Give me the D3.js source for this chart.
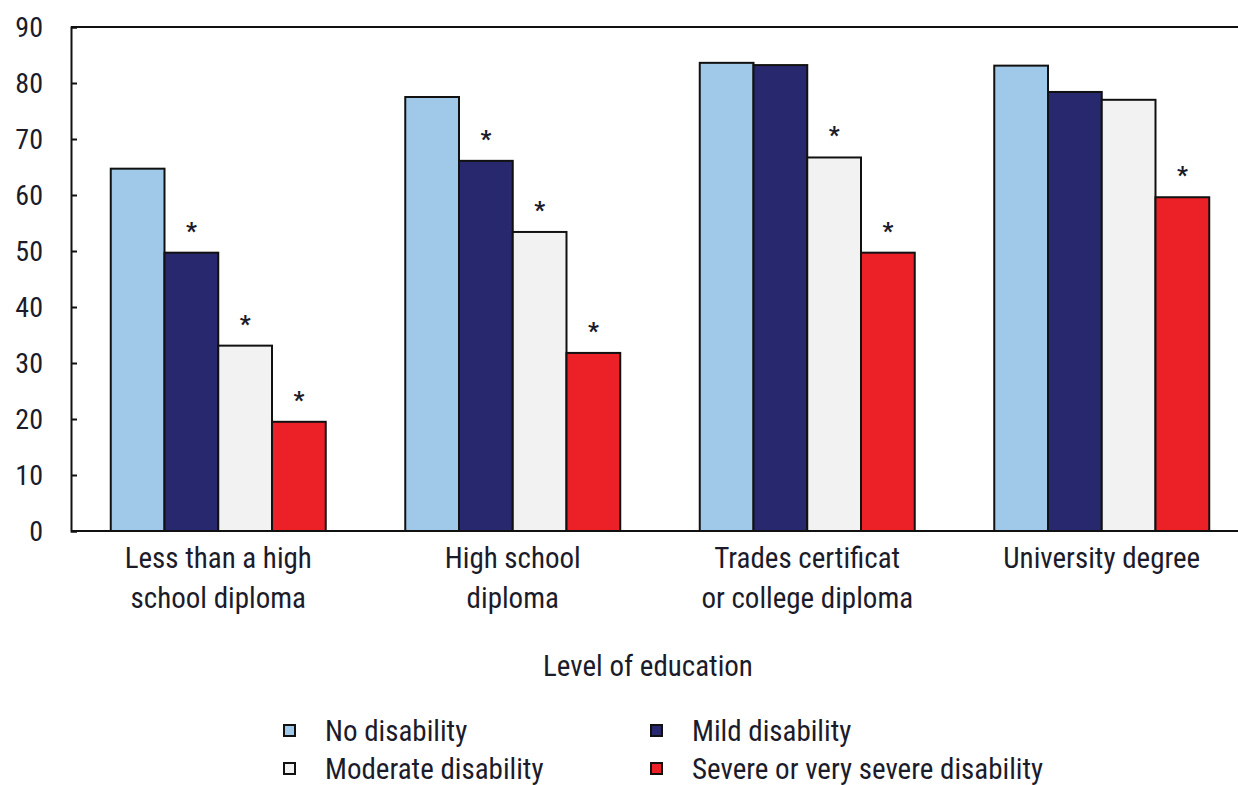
<!DOCTYPE html>
<html>
<head>
<meta charset="utf-8">
<script src="https://cdn.jsdelivr.net/npm/d3@7"></script>
<style>
  body { margin: 0; background: #fff; }
  svg text { font-family: "Liberation Sans Narrow", "Arial Narrow", "Roboto Condensed", "Liberation Sans", sans-serif; fill: #1b1b2a; }
</style>
</head>
<body>
<div id="chart"></div>
<script>
// data
const categories = [
  ["Less than a high", "school diploma"],
  ["High school", "diploma"],
  ["Trades certificat", "or college diploma"],
  ["University degree"]
];
const seriesNames = ["No disability", "Mild disability", "Moderate disability", "Severe or very severe disability"];
const noDisability = [64.7, 77.5, 83.6, 83.1];
const mildDisability = [49.7, 66.1, 83.2, 78.4];
const moderateDisability = [33.1, 53.4, 66.7, 77.0];
const severeDisability = [19.5, 31.8, 49.7, 59.6];
// significance stars (1 = marked with *)
const starMild = [1, 1, 0, 0];
const starModerate = [1, 1, 1, 0];
const starSevere = [1, 1, 1, 1];
const yTicks = [0, 10, 20, 30, 40, 50, 60, 70, 80, 90];
const xTitle = "Level of education";

const series = [noDisability, mildDisability, moderateDisability, severeDisability];
const stars = [[0, 0, 0, 0], starMild, starModerate, starSevere];
const colors = ["#9fc8e9", "#28286f", "#f2f2f2", "#ec2127"];

const width = 1238, height = 785;
const margin = { top: 27, right: -11, bottom: 254, left: 71 };

const svg = d3.select("#chart").append("svg")
  .attr("width", width).attr("height", height);

const x0 = d3.scaleBand()
  .domain(d3.range(categories.length))
  .range([margin.left, width - margin.right])
  .paddingInner(0.27).paddingOuter(0.135);
const x1 = d3.scaleBand()
  .domain(d3.range(series.length))
  .range([0, x0.bandwidth()]);
const y = d3.scaleLinear().domain([0, 90]).range([height - margin.bottom, margin.top]);

// frame
svg.append("line")
  .attr("x1", margin.left).attr("x2", width)
  .attr("y1", y(90)).attr("y2", y(90))
  .attr("stroke", "#111").attr("stroke-width", 2);

// y axis
const yAxis = svg.append("g")
  .attr("transform", `translate(${margin.left},0)`)
  .call(d3.axisRight(y).tickValues(yTicks).tickSize(6).tickFormat(""));
yAxis.select(".domain").attr("stroke", "#111").attr("stroke-width", 2);
yAxis.selectAll(".tick line").attr("stroke", "#111").attr("stroke-width", 2);

svg.append("g").selectAll("text")
  .data(yTicks).enter().append("text")
  .attr("x", 43).attr("y", (d) => y(d))
  .attr("dy", "0.36em")
  .attr("text-anchor", "end")
  .style("font-size", "28px")
  .text((d) => d);

// bars
const groups = svg.append("g").selectAll("g")
  .data(categories).enter().append("g")
  .attr("transform", (d, i) => `translate(${x0(i)},0)`);

groups.selectAll("rect")
  .data((d, i) => series.map((s, j) => ({ j, v: s[i], star: stars[j][i] })))
  .enter().append("rect")
  .attr("x", (d) => x1(d.j))
  .attr("y", (d) => y(d.v))
  .attr("width", x1.bandwidth())
  .attr("height", (d) => y(0) - y(d.v))
  .attr("fill", (d) => colors[d.j])
  .attr("stroke", "#111")
  .attr("stroke-width", 2);

groups.selectAll("text.star")
  .data((d, i) => series.map((s, j) => ({ j, v: s[i], star: stars[j][i] })).filter((d) => d.star))
  .enter().append("text")
  .attr("class", "star")
  .attr("x", (d) => x1(d.j) + x1.bandwidth() / 2)
  .attr("y", (d) => y(d.v) - 14)
  .attr("text-anchor", "middle")
  .style("font-size", "24px")
  .style("font-weight", "bold")
  .text("*");

// baseline
svg.append("line")
  .attr("x1", margin.left).attr("x2", width)
  .attr("y1", y(0)).attr("y2", y(0))
  .attr("stroke", "#111").attr("stroke-width", 2);

// category labels
const catLabels = svg.append("g").selectAll("text")
  .data(categories).enter().append("text")
  .attr("x", (d, i) => x0(i) + x0.bandwidth() / 2)
  .attr("y", 568)
  .attr("text-anchor", "middle")
  .style("font-size", "29px");
catLabels.selectAll("tspan")
  .data((d) => d).enter().append("tspan")
  .attr("x", function () { return this.parentNode.getAttribute("x"); })
  .attr("dy", (d, i) => (i === 0 ? 0 : 40))
  .text((d) => d);

// x title
svg.append("text")
  .attr("x", 648).attr("y", 676)
  .attr("text-anchor", "middle")
  .style("font-size", "29px")
  .text(xTitle);

// legend
const legendPos = [[284, 741], [651, 741], [284, 779], [651, 779]];
const legendOrder = [0, 1, 2, 3];
const legend = svg.append("g").selectAll("g")
  .data(legendOrder).enter().append("g")
  .attr("transform", (d, i) => `translate(${legendPos[i][0]},${legendPos[i][1]})`);
legend.append("rect")
  .attr("x", 0).attr("y", -16)
  .attr("width", 11).attr("height", 11)
  .attr("fill", (d) => colors[d])
  .attr("stroke", "#111").attr("stroke-width", 2);
legend.append("text")
  .attr("x", 41).attr("y", 0)
  .style("font-size", "29px")
  .text((d) => seriesNames[d]);
</script>
</body>
</html>
